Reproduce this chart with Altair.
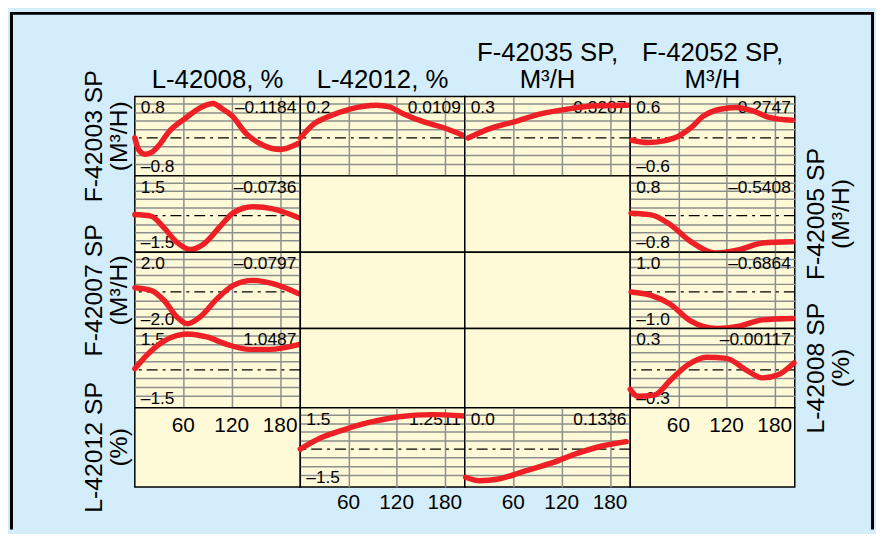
import altair as alt
import pandas as pd

# ---------------- data ----------------
col_titles = [["L-42008, %"], ["L-42012, %"], ["F-42035 SP,", "M³/H"], ["F-42052 SP,", "M³/H"]]
row_titles = [["F-42003 SP", "(M³/H)"], ["F-42005 SP", "(M³/H)"], ["F-42007 SP", "(M³/H)"],
              ["L-42008 SP", "(%)"], ["L-42012 SP", "(%)"]]
row_title_side = ["left", "right", "left", "right", "left"]
tick_values = [60, 120, 180]
tick_labels = ["60", "120", "180"]

cell_rows = [0, 0, 0, 0, 1, 1, 2, 2, 3, 3, 4, 4]
cell_cols = [0, 1, 2, 3, 0, 3, 0, 3, 0, 3, 1, 2]
cell_scale = [0.8, 0.2, 0.3, 0.6, 1.5, 0.8, 2.0, 1.0, 1.5, 0.3, 1.5, 0.6]
cell_top_label = ["0.8", "0.2", "0.3", "0.6", "1.5", "0.8", "2.0", "1.0", "1.5", "0.3", "1.5", "0.0"]
cell_bottom_label = ["–0.8", "", "", "–0.6", "–1.5", "–0.8", "–2.0", "–1.0", "–1.5", "–0.3", "–1.5", ""]
cell_final_label = ["–0.1184", "0.0109", "0.3287", "0.2747", "–0.0736", "–0.5408",
                    "–0.0797", "–0.6864", "1.0487", "–0.00117", "1.2511", "0.1336"]

curve_t = [
    [0, 5, 13, 22, 30, 42, 62, 83, 97, 108, 120, 138, 159, 180, 203],
    [0, 17, 33, 62, 95, 111, 128, 156, 177, 203],
    [4, 32, 61, 94, 126, 163, 202],
    [2, 22, 42, 60, 75, 91, 112, 132, 153, 173, 202],
    [0, 20, 36, 52, 69, 85, 106, 122, 146, 171, 203],
    [1, 26, 50, 75, 108, 136, 165, 202],
    [0, 20, 36, 52, 65, 81, 102, 122, 146, 171, 203],
    [1, 26, 50, 75, 108, 136, 165, 202],
    [0, 16, 36, 65, 89, 114, 142, 167, 204],
    [0, 9, 30, 50, 71, 95, 120, 144, 165, 185, 204],
    [0, 25, 54, 87, 123, 164, 204],
    [1, 18, 42, 75, 108, 140, 169, 200],
]
curve_v = [
    [0.0, -0.28, -0.38, -0.32, -0.17, 0.14, 0.45, 0.72, 0.80, 0.68, 0.52, 0.10, -0.17, -0.27, -0.12],
    [0.0, 0.082, 0.12, 0.168, 0.19, 0.18, 0.14, 0.09, 0.062, 0.015],
    [0.0, 0.084, 0.14, 0.21, 0.25, 0.28, 0.285],
    [-0.04, -0.08, -0.05, 0.03, 0.17, 0.38, 0.50, 0.53, 0.47, 0.36, 0.31],
    [0.05, -0.02, -0.54, -1.2, -1.53, -1.29, -0.47, 0.13, 0.40, 0.31, -0.09],
    [0.06, 0.02, -0.22, -0.62, -0.9, -0.82, -0.66, -0.63],
    [0.26, 0.1, -0.5, -1.5, -1.92, -1.5, -0.4, 0.4, 0.7, 0.5, -0.1],
    [0.0, -0.1, -0.37, -0.87, -1.1, -1.03, -0.84, -0.8],
    [0.05, 0.68, 1.25, 1.56, 1.43, 1.11, 0.89, 0.89, 1.11],
    [-0.17, -0.23, -0.22, -0.09, 0.04, 0.11, 0.10, 0.0, -0.07, -0.04, 0.06],
    [0.0, 0.48, 0.84, 1.17, 1.41, 1.5, 1.44],
    [-0.49, -0.55, -0.52, -0.38, -0.24, -0.07, 0.05, 0.13],
]

# ---------------- style ----------------
BG = "#d3eefa"
CREAM = "#fefad8"
RED = "#ee1f25"
GRID = "#8e8e8e"
FONT = "Liberation Sans"
COL_W = [167, 166, 167, 166]
ROW_H = [80, 77, 77, 80, 80]
LEFT_W, RIGHT_W, HEAD_H = 126, 80, 86
TOTAL_W = LEFT_W + sum(COL_W) + RIGHT_W
T_MAX = 205

one = pd.DataFrame({"k": [0]})
ticks_df = pd.DataFrame({"t": tick_values, "label": tick_labels})


def text_layer(s, x, y, size, align="left", baseline="alphabetic", angle=0):
    kw = dict(text=s, align=align, baseline=baseline, fontSize=size, font=FONT, color="black")
    if angle:
        kw["angle"] = angle
    return alt.Chart(one).mark_text(**kw).encode(x=alt.value(x), y=alt.value(y))


def blank():
    return text_layer("", 10, 30, 10)


children = []

# header row: top-left corner carries the outer frame
frame = alt.layer(
    alt.Chart(one).mark_rule(color="black", strokeWidth=3).encode(
        x=alt.value(1.5), y=alt.value(2), y2=alt.value(523)),
    alt.Chart(one).mark_rule(color="black", strokeWidth=3).encode(
        x=alt.value(TOTAL_W - 1.5), y=alt.value(2), y2=alt.value(523)),
    alt.Chart(one).mark_rule(color="black", strokeWidth=3).encode(
        x=alt.value(0), x2=alt.value(TOTAL_W), y=alt.value(2)),
).properties(width=LEFT_W, height=HEAD_H)
children.append(frame)
for c, lines in enumerate(col_titles):
    cx = COL_W[c] / 2
    ys = [HEAD_H - 9] if len(lines) == 1 else [HEAD_H - 36, HEAD_H - 9]
    layers = [text_layer(line, cx, y, 26, "center") for line, y in zip(lines, ys)]
    children.append(alt.layer(*layers).properties(width=COL_W[c], height=HEAD_H))
children.append(alt.layer(blank()).properties(width=RIGHT_W, height=HEAD_H))


def label_chart(r, side):
    w = LEFT_W if side == "left" else RIGHT_W
    h = ROW_H[r]
    if row_title_side[r] == side:
        l1, l2 = row_titles[r]
        xs = (85, 110) if side == "left" else (22, 47)
        layers = [text_layer(l1, xs[0], h / 2, 25, "center", "middle", 270),
                  text_layer(l2, xs[1], h / 2, 25, "center", "middle", 270)]
    else:
        layers = [blank()]
    return alt.layer(*layers).properties(width=w, height=h)


def cell_chart(r, c):
    w, h = COL_W[c], ROW_H[r]
    view = alt.ViewBackground(fill=CREAM, stroke="black", strokeWidth=1.5)
    xs = alt.Scale(domain=[0, T_MAX], nice=False, zero=False)
    idx = None
    for i in range(len(cell_rows)):
        if cell_rows[i] == r and cell_cols[i] == c:
            idx = i
    layers = []
    if idx is not None:
        L = cell_scale[idx]
        ys = alt.Scale(domain=[-1.1 * L, 1.2 * L], nice=False, zero=False)
        xax = alt.Axis(values=tick_values, grid=True, labels=False, ticks=False, domain=False,
                       title=None, gridColor=GRID, gridWidth=1.5, gridOpacity=1)
        yax = alt.Axis(values=[k * L / 4 for k in (-3, -2, -1, 1, 2, 3, 4)], grid=True, labels=False,
                       ticks=False, domain=False, title=None, gridColor=GRID, gridWidth=1.5,
                       gridOpacity=1)
        df = pd.DataFrame({"t": curve_t[idx], "v": curve_v[idx]})
        zero_df = pd.DataFrame({"v": [0.0]})
        layers.append(alt.Chart(zero_df).mark_rule(color="black", strokeWidth=1.3,
                                                   strokeDash=[11, 5, 3, 5]).encode(
            y=alt.Y("v:Q", scale=ys, axis=yax)))
        layers.append(text_layer(cell_top_label[idx], 6, 17, 17.5))
        if cell_bottom_label[idx]:
            layers.append(text_layer(cell_bottom_label[idx], 6, h - 4, 17.5))
        layers.append(text_layer(cell_final_label[idx], w - 4, 17, 17.5, "right"))
        if r == 4:
            layers.append(alt.Chart(ticks_df).mark_text(fontSize=21, font=FONT, color="black",
                                                        baseline="alphabetic").encode(
                x=alt.X("t:Q", scale=xs, axis=xax), y=alt.value(h + 22), text="label:N"))
        layers.append(alt.Chart(df).mark_line(color=RED, strokeWidth=5.5, interpolate="monotone",
                                              strokeCap="round").encode(
            x=alt.X("t:Q", scale=xs, axis=xax), y=alt.Y("v:Q", scale=ys, axis=yax)))
    elif r == 4:
        layers.append(alt.Chart(ticks_df).mark_text(fontSize=21, font=FONT, color="black",
                                                    baseline="alphabetic").encode(
            x=alt.X("t:Q", scale=xs, axis=None), y=alt.value(24), text="label:N"))
    else:
        layers.append(blank())
    return alt.layer(*layers).properties(width=w, height=h, view=view)


for r in range(5):
    children.append(label_chart(r, "left"))
    for c in range(4):
        children.append(cell_chart(r, c))
    children.append(label_chart(r, "right"))

chart = alt.concat(*children, columns=6, spacing=0, bounds="flush", padding=0).configure(
    background=BG).configure_view(stroke="transparent")

chart.save("out.html", embed_options={"renderer": "svg", "actions": False})
